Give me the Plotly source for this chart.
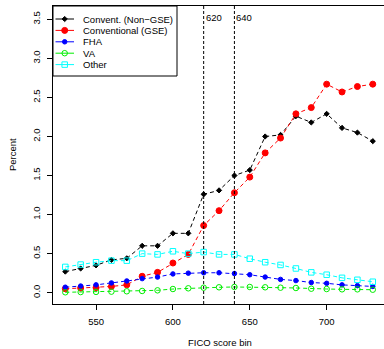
import plotly.graph_objects as go

fico = [530, 540, 550, 560, 570, 580, 590, 600, 610, 620, 630, 640, 650, 660, 670, 680, 690, 700, 710, 720, 730]

non_gse = [0.27, 0.31, 0.35, 0.42, 0.44, 0.60, 0.60, 0.76, 0.76, 1.26, 1.31, 1.50, 1.57, 2.00, 2.02, 2.26, 2.18, 2.29, 2.11, 2.05, 1.94]
gse = [0.05, 0.06, 0.065, 0.08, 0.10, 0.21, 0.26, 0.38, 0.49, 0.86, 1.05, 1.28, 1.48, 1.79, 1.98, 2.29, 2.37, 2.67, 2.57, 2.64, 2.67]
fha = [0.07, 0.085, 0.10, 0.125, 0.15, 0.18, 0.20, 0.24, 0.25, 0.255, 0.255, 0.245, 0.23, 0.20, 0.17, 0.155, 0.13, 0.12, 0.10, 0.09, 0.08]
va = [0.005, 0.008, 0.01, 0.013, 0.018, 0.022, 0.03, 0.047, 0.056, 0.064, 0.069, 0.073, 0.073, 0.069, 0.064, 0.06, 0.051, 0.047, 0.043, 0.043, 0.038]
other = [0.33, 0.36, 0.39, 0.41, 0.41, 0.50, 0.49, 0.53, 0.50, 0.52, 0.49, 0.49, 0.435, 0.39, 0.355, 0.31, 0.26, 0.23, 0.19, 0.165, 0.14]

series_names = ["Convent. (Non\u2212GSE)", "Conventional (GSE)", "FHA", "VA", "Other"]
series_values = [non_gse, gse, fha, va, other]
series_colors = ["#000000", "#ff0000", "#0000ff", "#00ee00", "#00ffff"]
series_symbols = ["diamond", "circle", "circle", "circle-open", "square-open"]
series_sizes = [4, 6, 4.5, 5.5, 5.5]

cutoffs = [620, 640]
y_ticks = [0.0, 0.5, 1.0, 1.5, 2.0, 2.5, 3.0, 3.5]
x_ticks = [550, 600, 650, 700]

FONT = "Liberation Sans, Arial, Helvetica, sans-serif"
W, H = 384, 349
L, T, B, R = 53, 6, 45, 0
PW, PH = W - L - R, H - T - B
DASH = "4px,3px"


def px_x(px):
    return (px - L) / PW


def px_y(py):
    return 1 - (py - T) / PH


fig = go.Figure()

for name, vals, col, sym, sz in zip(series_names, series_values, series_colors, series_symbols, series_sizes):
    fig.add_trace(go.Scatter(
        x=fico, y=vals, mode="lines+markers", name=name,
        line=dict(color=col, width=1, dash=DASH),
        marker=dict(color=col, symbol=sym, size=sz, line=dict(color=col, width=1)),
        showlegend=False, cliponaxis=False,
    ))

# vertical cutoff lines
for c in cutoffs:
    fig.add_shape(type="line", xref="x", yref="paper", x0=c, x1=c, y0=0, y1=1,
                  line=dict(color="black", width=1, dash="3px,2px"))
    fig.add_annotation(x=c, xref="x", y=px_y(18), yref="paper",
                       text=str(c), showarrow=False, xanchor="left", yanchor="middle",
                       xshift=0, font=dict(family=FONT, size=9.5, color="black"))

# manual legend drawn in an overlay pixel-space axis
leg_x0, leg_x1, leg_y0, leg_y1 = 53, 177, 6, 76
fig.add_shape(type="rect", xref="x2", yref="y2", x0=leg_x0, x1=leg_x1, y0=leg_y0, y1=leg_y1,
              line=dict(color="black", width=1), fillcolor="rgba(0,0,0,0)", layer="above")
row0, step = 19, 11.4
for i, (name, col, sym, sz) in enumerate(zip(series_names, series_colors, series_symbols, series_sizes)):
    yy = row0 + i * step
    fig.add_trace(go.Scatter(x=[55.5, 74], y=[yy, yy], mode="lines", xaxis="x2", yaxis="y2",
                             line=dict(color=col, width=1), showlegend=False, hoverinfo="skip"))
    fig.add_trace(go.Scatter(x=[64.7], y=[yy], mode="markers", xaxis="x2", yaxis="y2",
                             marker=dict(color=col, symbol=sym, size=sz, line=dict(color=col, width=1)),
                             showlegend=False, hoverinfo="skip"))
    fig.add_annotation(x=81, y=yy, xref="x2", yref="y2", text=name, showarrow=False,
                       xanchor="left", yanchor="middle",
                       font=dict(family=FONT, size=9.5, color="black"))

# axis titles
fig.add_annotation(x=px_x(12), y=px_y(155), xref="paper", yref="paper", text="Percent", textangle=-90,
                   showarrow=False, xanchor="center", yanchor="middle",
                   font=dict(family=FONT, size=9.5, color="black"))
fig.add_annotation(x=px_x(220), y=px_y(342), xref="paper", yref="paper", text="FICO score bin",
                   showarrow=False, xanchor="center", yanchor="middle",
                   font=dict(family=FONT, size=9.5, color="black"))

fig.update_layout(
    width=W, height=H,
    margin=dict(l=L, r=R, t=T, b=B, pad=0),
    paper_bgcolor="white", plot_bgcolor="white",
    showlegend=False,
    font=dict(family=FONT, size=9, color="black"),
    xaxis=dict(range=[522.0, 737.3], tickvals=x_ticks, ticks="outside", ticklen=5,
               tickcolor="black", showline=True, linecolor="black", linewidth=1,
               mirror=True, showgrid=False, zeroline=False,
               tickfont=dict(family=FONT, size=9.5, color="black"), ticklabelstandoff=4),
    yaxis=dict(range=[-0.145, 3.671], tickvals=y_ticks, ticktext=[f"{v:.1f}" for v in y_ticks],
               ticks="outside", ticklen=5, tickcolor="black", tickangle=-90,
               showline=True, linecolor="black", linewidth=1, showgrid=False, zeroline=False,
               tickfont=dict(family=FONT, size=9.5, color="black"), ticklabelstandoff=3),
    xaxis2=dict(range=[L, W - R], overlaying="x", anchor="y2", visible=False, fixedrange=True),
    yaxis2=dict(range=[H - B, T], overlaying="y", anchor="x2", visible=False, fixedrange=True),
)

fig.write_html("out.html")
